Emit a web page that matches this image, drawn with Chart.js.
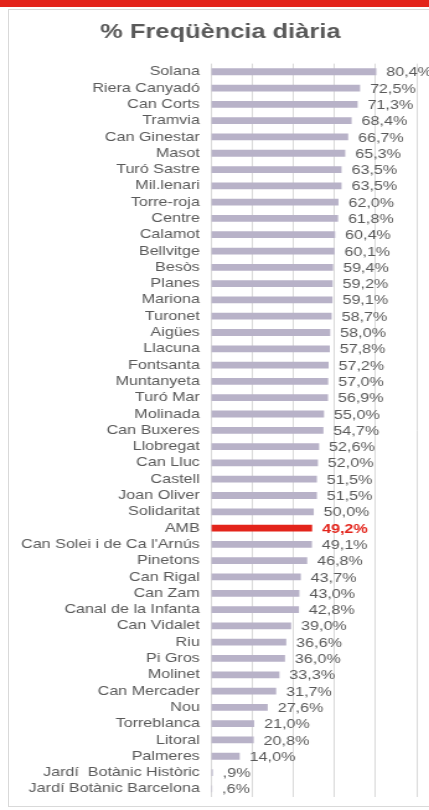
<!DOCTYPE html>
<html>
<head>
<meta charset="utf-8">
<script src="https://cdn.jsdelivr.net/npm/chart.js@4"></script>
<style>
    body { margin: 0; background: #fff; width: 429px; height: 810px; overflow: hidden; position: relative; }
    .strip { position: absolute; left: 0; top: 0; width: 429px; height: 7px; background: #e3241b; }
    .panel { position: absolute; left: 8px; top: 9px; width: 440px; height: 798px; border: 1px solid #d9d9d9; box-sizing: border-box; }
    /* the source picture is stretched sideways, so the canvas is too */
    #chart { position: absolute; left: 0; top: 0; transform: scaleX(1.24); transform-origin: 0 0; }
</style>
</head>
<body>
<div class="strip"></div>
<div class="panel"></div>
<canvas id="chart" width="346" height="810"></canvas>
<script>
const categories = [
    'Solana', 'Riera Canyadó', 'Can Corts', 'Tramvia', 'Can Ginestar', 'Masot',
    'Turó Sastre', 'Mil.lenari', 'Torre-roja', 'Centre', 'Calamot', 'Bellvitge',
    'Besòs', 'Planes', 'Mariona', 'Turonet', 'Aigües', 'Llacuna', 'Fontsanta',
    'Muntanyeta', 'Turó Mar', 'Molinada', 'Can Buxeres', 'Llobregat', 'Can Lluc',
    'Castell', 'Joan Oliver', 'Solidaritat', 'AMB', "Can Solei i de Ca l'Arnús",
    'Pinetons', 'Can Rigal', 'Can Zam', 'Canal de la Infanta', 'Can Vidalet',
    'Riu', 'Pi Gros', 'Molinet', 'Can Mercader', 'Nou', 'Torreblanca', 'Litoral',
    'Palmeres', 'Jardí  Botànic Històric', 'Jardí Botànic Barcelona'
];
const frequencia = [
    80.4, 72.5, 71.3, 68.4, 66.7, 65.3,
    63.5, 63.5, 62.0, 61.8, 60.4, 60.1,
    59.4, 59.2, 59.1, 58.7, 58.0, 57.8, 57.2,
    57.0, 56.9, 55.0, 54.7, 52.6, 52.0,
    51.5, 51.5, 50.0, 49.2, 49.1,
    46.8, 43.7, 43.0, 42.8, 39.0,
    36.6, 36.0, 33.3, 31.7, 27.6, 21.0, 20.8,
    14.0, 0.9, 0.6
];
const xTicks = [0, 20, 40, 60, 80, 100];
const highlight = 'AMB';

const grey = '#595959';
const barColor = '#b8b2c8';
const red = '#e3241b';
const fontFamily = '"Liberation Sans", Arial, sans-serif';

function fmt(v) {
    let s = v.toFixed(1).replace('.', ',');
    if (s.startsWith('0')) s = s.slice(1);
    return s + '%';
}

const valueLabels = {
    id: 'valueLabels',
    afterDatasetsDraw(chart) {
        const ctx = chart.ctx;
        const meta = chart.getDatasetMeta(0);
        ctx.save();
        ctx.textBaseline = 'middle';
        ctx.textAlign = 'left';
        meta.data.forEach((bar, i) => {
            const isHi = categories[i] === highlight;
            ctx.font = (isHi ? 'bold ' : '') + '13px ' + fontFamily;
            ctx.fillStyle = isHi ? red : grey;
            ctx.fillText(fmt(frequencia[i]), bar.x + 8, bar.y + 1);
        });
        ctx.restore();
    }
};

const ctx = document.getElementById('chart').getContext('2d');
new Chart(ctx, {
    type: 'bar',
    data: {
        labels: categories,
        datasets: [{
            data: frequencia,
            backgroundColor: categories.map(c => c === highlight ? red : barColor),
            barPercentage: 0.52,
            categoryPercentage: 0.8
        }]
    },
    options: {
        indexAxis: 'y',
        responsive: false,
        animation: false,
        layout: { padding: { left: 8, right: 10, top: 0, bottom: 13 } },
        plugins: {
            legend: { display: false },
            tooltip: { enabled: false },
            title: {
                display: true,
                text: '  % Freqüència diària',
                color: grey,
                font: { family: fontFamily, size: 20.5, weight: 'bold' },
                padding: { top: 20, bottom: 19 }
            }
        },
        scales: {
            x: {
                min: 0,
                max: 100,
                afterBuildTicks: axis => { axis.ticks = xTicks.map(v => ({ value: v })); },
                ticks: { display: false },
                grid: { color: '#d9d9d9', drawTicks: false },
                border: { display: false }
            },
            y: {
                afterFit: axis => { axis.paddingTop = 0; axis.paddingBottom = 0; },
                ticks: {
                    autoSkip: false,
                    color: grey,
                    padding: 9,
                    font: { family: fontFamily, size: 13 }
                },
                grid: { display: false, drawTicks: false },
                border: { display: false }
            }
        }
    },
    plugins: [valueLabels]
});
</script>
</body>
</html>
